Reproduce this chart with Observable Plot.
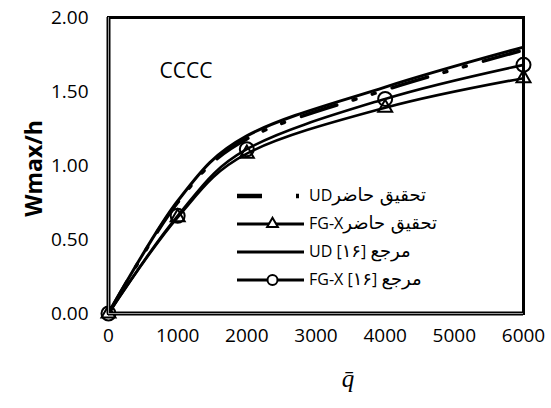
<!DOCTYPE html>
<html>
<head>
<meta charset="utf-8">
<script src="https://cdn.jsdelivr.net/npm/d3@7"></script>
<script src="https://cdn.jsdelivr.net/npm/@observablehq/plot@0.6"></script>
<style>
  html, body { margin: 0; padding: 0; background: #fff; }
  #chart { position: relative; width: 551px; height: 408px; overflow: hidden; }
  #legend { position: absolute; left: 0; top: 0; }
  .lg-text { position: absolute; font-family: "Open Sans", "DejaVu Sans", sans-serif; font-size: 16px; line-height: 20px; white-space: nowrap; color: #000; }
  .lg-text .ar { font-family: "DejaVu Sans", sans-serif; font-size: 18px; }
</style>
</head>
<body>
<div id="chart"></div>
<script>
// Load parameter q̄ at which deflection was computed
const qBar = [0, 1000, 2000, 4000, 6000];

// Non-dimensional maximum deflection Wmax/h for each case
const udPresent  = [0, 0.75, 1.18, 1.51, 1.78];
const fgxPresent = [0, 0.65, 1.08, 1.39, 1.59];
const udRef      = [0, 0.76, 1.20, 1.53, 1.80];
const fgxRef     = [0, 0.66, 1.11, 1.45, 1.68];

const seriesNames = [
  "تحقيق حاضرUD",
  "تحقيق حاضرFG-X",
  "مرجع [۱۶] UD",
  "مرجع [۱۶] FG-X"
];

const xTicks = [0, 1000, 2000, 3000, 4000, 5000, 6000];
const yTicks = [0, 0.5, 1.0, 1.5, 2.0];

const boundary = "CCCC";
const yLabel = "Wmax/h";
const xLabel = "q\u0304";

// Long table built from the named arrays
const seriesValues = [udPresent, fgxPresent, udRef, fgxRef];
const rows = seriesValues.flatMap((vals, i) =>
  vals.map((w, j) => ({ q: qBar[j], w, series: seriesNames[i] }))
);
const bySeries = name => rows.filter(d => d.series === name);

const dashDot = "37 17 3 17 3 18";

const W = 551, H = 408;
const margin = { top: 17, right: 28, bottom: 95, left: 108 };

const plot = Plot.plot({
  width: W,
  height: H,
  marginTop: margin.top,
  marginRight: margin.right,
  marginBottom: margin.bottom,
  marginLeft: margin.left,
  style: { fontFamily: "'Open Sans', 'DejaVu Sans', sans-serif", fontSize: "19px", color: "#000", background: "#fff" },
  x: { domain: [0, 6000] },
  y: { domain: [0, 2] },
  marks: [
    // curves
    Plot.line(bySeries(seriesNames[0]), { x: "q", y: "w", curve: "cardinal", stroke: "#000", strokeWidth: 3.5, strokeDasharray: dashDot }),
    Plot.line(bySeries(seriesNames[1]), { x: "q", y: "w", curve: "cardinal", stroke: "#000", strokeWidth: 2.6 }),
    Plot.line(bySeries(seriesNames[2]), { x: "q", y: "w", curve: "cardinal", stroke: "#000", strokeWidth: 3 }),
    Plot.line(bySeries(seriesNames[3]), { x: "q", y: "w", curve: "cardinal", stroke: "#000", strokeWidth: 2.6 }),
    // markers
    Plot.dot(bySeries(seriesNames[1]), { x: "q", y: "w", symbol: "triangle", r: 5.2, stroke: "#000", strokeWidth: 2, fill: "none" }),
    Plot.dot(bySeries(seriesNames[3]), { x: "q", y: "w", symbol: "circle", r: 7, stroke: "#000", strokeWidth: 2, fill: "none" }),
    // plot-area border
    Plot.frame({ stroke: "#000", strokeWidth: 3 }),
    Plot.ruleY([0], { stroke: "#000", strokeWidth: 4 }),
    Plot.ruleY([0], { stroke: "#9a9a9a", strokeWidth: 1 }),
    Plot.ruleX([0], { stroke: "#000", strokeWidth: 4 }),
    Plot.ruleX([0], { stroke: "#9a9a9a", strokeWidth: 1 }),
    // axes
    Plot.axisX({ ticks: xTicks, tickSize: 0, tickPadding: 15, tickFormat: d => String(d), label: null }),
    Plot.axisY({ ticks: yTicks, tickSize: 0, tickPadding: 20, tickFormat: d3.format(".2f"), label: null }),
    // titles
    Plot.text([yLabel], { frameAnchor: "left", textAnchor: "middle", lineAnchor: "middle", rotate: -90, dx: -74, dy: 3, fontWeight: "bold", fontSize: 23, text: d => d }),
    Plot.text([xLabel], { frameAnchor: "bottom", dx: 32, dy: 73, fontStyle: "italic", fontSize: 25, fontFamily: "'Liberation Serif', 'DejaVu Serif', serif", text: d => d }),
    Plot.text([boundary], { frameAnchor: "top-left", textAnchor: "start", dx: 51, dy: 46, fontSize: 21, text: d => d })
  ]
});

const chart = document.getElementById("chart");
chart.appendChild(plot);

// Legend: sample line + marker, then the label
const legend = d3.select(chart).append("svg")
  .attr("id", "legend").attr("width", W).attr("height", H);

const lgX0 = 237, lgX1 = 304, lgY0 = 196, lgStep = 28, lgTextX = 309;
const lgStyles = [
  { width: 4.5, dash: "25 34 3 100", marker: null },
  { width: 3,   dash: null,          marker: "triangle" },
  { width: 3,   dash: null,          marker: null },
  { width: 3,   dash: null,          marker: "circle" }
];

seriesNames.forEach((name, i) => {
  const y = lgY0 + i * lgStep;
  const s = lgStyles[i];
  legend.append("line")
    .attr("x1", lgX0).attr("x2", lgX1).attr("y1", y).attr("y2", y)
    .attr("stroke", "#000").attr("stroke-width", s.width)
    .attr("stroke-dasharray", s.dash);
  if (s.marker === "triangle") {
    legend.append("path")
      .attr("transform", `translate(${(lgX0 + lgX1) / 2 + 2},${y})`)
      .attr("d", d3.symbol(d3.symbolTriangle, 50)())
      .attr("fill", "#fff").attr("stroke", "#000").attr("stroke-width", 2);
  }
  if (s.marker === "circle") {
    legend.append("circle")
      .attr("cx", (lgX0 + lgX1) / 2 + 2).attr("cy", y).attr("r", 5)
      .attr("fill", "#fff").attr("stroke", "#000").attr("stroke-width", 2);
  }
  // Arabic runs get their own font size; Latin runs stay at the base size
  const label = d3.select(chart).append("div")
    .attr("class", "lg-text")
    .attr("dir", "rtl")
    .style("left", lgTextX + "px")
    .style("top", (y - 11) + "px");
  name.split(/([\u0600-\u06FF]+(?: [\u0600-\u06FF]+)*)/).filter(t => t.length).forEach(part => {
    const span = label.append("span").text(part);
    if (/[\u0600-\u06FF]/.test(part)) span.attr("class", "ar");
  });
});
</script>
</body>
</html>
